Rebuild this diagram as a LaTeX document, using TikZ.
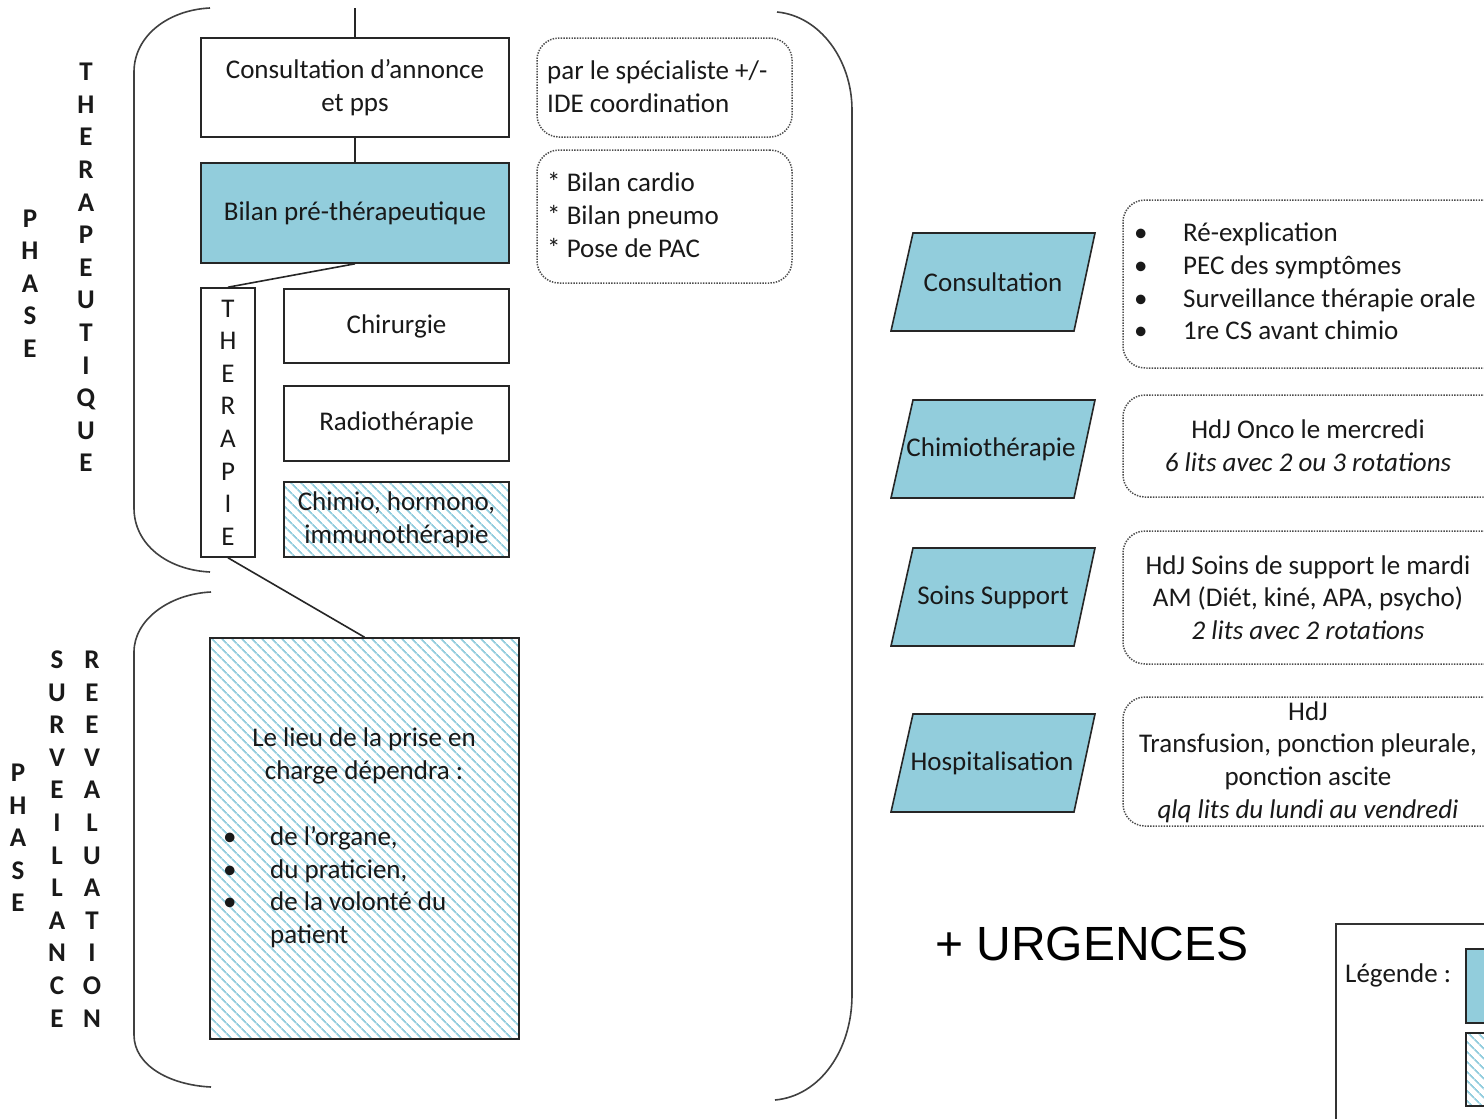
\documentclass[tikz,border=0pt]{standalone}
\usepackage{fontspec}
\setmainfont{Carlito}
\newfontfamily\arialf{Liberation Sans}
\usetikzlibrary{patterns.meta}
\definecolor{aqua}{RGB}{146,205,220}
\definecolor{hatchc}{RGB}{146,205,222}
\begin{document}
\begin{tikzpicture}[x=1pt,y=-1pt,
  txt/.style={font=\fontsize{27}{32.6}\selectfont, text=black!90, inner sep=0pt},
  box/.style={draw=black!85, line width=1.6pt, txt, align=center},
  bluebox/.style={box, fill=aqua},
  hatchbox/.style={box, pattern={Lines[angle=-45,distance=7.4pt,line width=2.1pt]}, pattern color=hatchc},
  note/.style={draw=black!70, line width=1.5pt, dash pattern=on 1.4pt off 1.3pt, rounded corners=22pt, inner sep=0pt},
  para/.style={draw=black!85, line width=1.6pt, fill=aqua},
  brace/.style={draw=black!75, line width=1.6pt},
  conn/.style={draw=black!85, line width=1.6pt},
  vlet/.style={font=\fontsize{27}{32.6}\selectfont\bfseries, align=center, inner sep=0pt, text=black!90}
]
\clip (0,0) rectangle (1484,1119);
\fill[white] (0,0) rectangle (1484,1119);

% brackets
\draw[brace] (210,8) .. controls (168,10) and (134,36) .. (134,72) -- (134,508) .. controls (134,545) and (168,570) .. (210,572);
\draw[brace] (211,592) .. controls (169,594) and (134,620) .. (134,652) -- (134,1035) .. controls (134,1065) and (169,1085) .. (211,1087);
\draw[brace] (777,12) .. controls (820,16) and (852,60) .. (852,110) -- (852,995) .. controls (852,1050) and (820,1096) .. (775,1100);

% vertical letters
\node[vlet] (ph1) at (30,283.5) {P\\H\\A\\S\\E};
\node[vlet] (thq) at (86,267.5) {T\\H\\E\\R\\A\\P\\E\\U\\T\\I\\Q\\U\\E};
\node[vlet] (ph2) at (18,838) {P\\H\\A\\S\\E};
\node[vlet] (surv) at (57,839) {S\\U\\R\\V\\E\\I\\L\\L\\A\\N\\C\\E};
\node[vlet] (reev) at (92,839) {R\\E\\E\\V\\A\\L\\U\\A\\T\\I\\O\\N};

% left column boxes
\node[box, minimum width=308pt, minimum height=99pt] (cons) at (355,87.5) {Consultation d’annonce\\et pps};
\node[bluebox, minimum width=308pt, minimum height=100pt] (bilan) at (355,213) {Bilan pré-thérapeutique};
\node[box, minimum width=54pt, minimum height=269pt] (ther) at (228,422.5) {T\\H\\E\\R\\A\\P\\I\\E};
\node[box, minimum width=225pt, minimum height=74pt] (chir) at (396.5,326) {Chirurgie};
\node[box, minimum width=225pt, minimum height=75pt] (radio) at (396.5,423.5) {Radiothérapie};
\node[hatchbox, minimum width=225pt, minimum height=75pt] (chimio) at (396.5,519.5) {Chimio, hormono,\\immunothérapie};
\node[hatchbox, minimum width=309pt, minimum height=401pt] (lieu) at (364.5,838.5) {};
\node[txt, align=center] (lieuh) at (364,756) {Le lieu de la prise en\\charge dépendra :};
\node[txt, align=left, anchor=west] (lieul) at (223,887) {\makebox[47pt][l]{•}de l’organe,\\\makebox[47pt][l]{•}du praticien,\\\makebox[47pt][l]{•}de la volonté du\\\hspace*{47pt}patient};

% connectors
\coordinate (topend) at (355,8);
\draw[conn] (topend) -- (cons.north);
\draw[conn] (cons.south) -- (bilan.north);
\draw[conn] (bilan.south) -- (ther.north);
\draw[conn] (ther.south) -- (lieu.north);

% notes
\node[note, minimum width=255pt, minimum height=99pt] (n1) at (664.5,87.5) {};
\node[txt, anchor=west, align=left] (n1t) at (547,87) {par le spécialiste +/-\\IDE coordination};
\node[note, minimum width=255pt, minimum height=133pt] (n2) at (664.5,216.5) {};
\node[txt, anchor=west, align=left] (n2t) at (547,215) {* Bilan cardio\\* Bilan pneumo\\* Pose de PAC};

% right column
\path[para] (913,233) -- (1095,233) -- (1074,331) -- (891,331) -- cycle;
\node[txt] (pcons) at (993,282) {Consultation};
\path[para] (913,400) -- (1095,400) -- (1074,498) -- (891,498) -- cycle;
\node[txt] (pchim) at (991,449) {Chimiothérapie};
\path[para] (913,548) -- (1095,548) -- (1074,646) -- (891,646) -- cycle;
\node[txt] (psoin) at (993,597) {Soins Support};
\path[para] (913,714) -- (1095,714) -- (1074,812) -- (891,812) -- cycle;
\node[txt] (phosp) at (992,763) {Hospitalisation};

\node[note, minimum width=387pt, minimum height=168pt] (r1) at (1316.5,284) {};
\node[txt, anchor=west, align=left] (r1t) at (1134,281.5) {\makebox[49pt][l]{•}Ré-explication\\\makebox[49pt][l]{•}PEC des symptômes\\\makebox[49pt][l]{•}Surveillance thérapie orale\\\makebox[49pt][l]{•}1re CS avant chimio};
\node[note, minimum width=387pt, minimum height=102pt] (r2) at (1316.5,446) {};
\node[txt, align=center] (r2t) at (1308,446) {HdJ Onco le mercredi\\\textit{6 lits avec 2 ou 3 rotations}};
\node[note, minimum width=387pt, minimum height=133pt] (r3) at (1316.5,597.5) {};
\node[txt, align=center] (r3t) at (1308,597.5) {HdJ Soins de support le mardi\\AM (Diét, kiné, APA, psycho)\\\textit{2 lits avec 2 rotations}};
\node[note, minimum width=387pt, minimum height=129pt] (r4) at (1316.5,761.5) {};
\node[txt, align=center] (r4t) at (1308,762) {HdJ\\Transfusion, ponction pleurale,\\ponction ascite\\\textit{qlq lits du lundi au vendredi}};

% urgences
\node[font=\arialf\fontsize{48}{56}\selectfont, anchor=base, inner sep=0pt] (urg) at (1092,960) {+ URGENCES};

% legend
\node[draw=black!80, line width=1.6pt, minimum width=265pt, minimum height=276pt, anchor=north west, inner sep=0pt] (leg) at (1335,923) {};
\node[txt, anchor=base west] (legt) at (1345,982) {Légende :};
\node[bluebox, minimum width=60pt, minimum height=74pt, anchor=north west] (legb) at (1465,948) {};
\node[hatchbox, minimum width=60pt, minimum height=73pt, anchor=north west] (legh) at (1465,1032) {};
\end{tikzpicture}
\end{document}
